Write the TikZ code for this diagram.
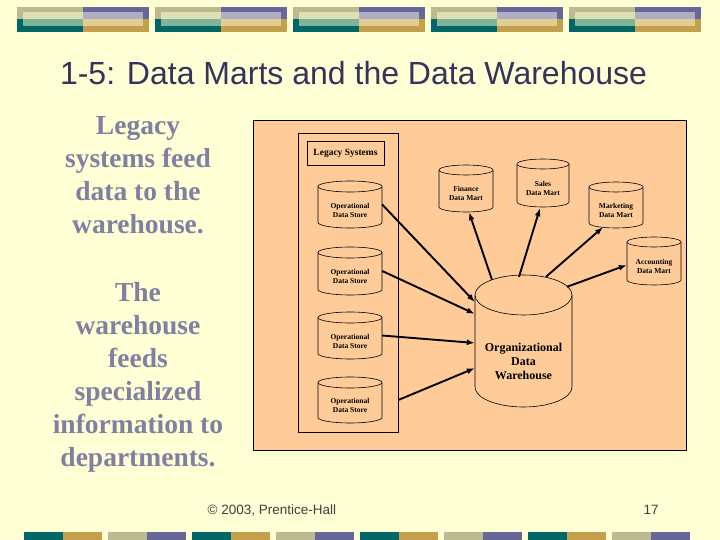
\documentclass[tikz,border=0pt]{standalone}
\usepackage{fontspec}
\setmainfont{Liberation Serif}
\newfontfamily\arialfont{Liberation Sans}
\usetikzlibrary{calc, arrows.meta}

\definecolor{slidebg}{RGB}{255,255,214}
\definecolor{panelpeach}{RGB}{255,204,153}
\definecolor{barolive}{RGB}{187,187,143}
\definecolor{barteal}{RGB}{0,102,102}
\definecolor{barpurple}{RGB}{102,102,153}
\definecolor{bargold}{RGB}{196,160,76}
\definecolor{liteolive}{RGB}{221,223,180}
\definecolor{liteteal}{RGB}{128,180,155}
\definecolor{litepurple}{RGB}{176,174,194}
\definecolor{litegold}{RGB}{226,206,146}
\definecolor{titleblue}{RGB}{51,51,92}
\definecolor{sidegray}{RGB}{128,128,162}

% database drum: name, left, top, right, bottom, rim, text, font
\newcommand{\dbcyl}[8]{%
  \pgfmathsetmacro{\cylrx}{(#4-#2)/2}%
  \pgfmathsetmacro{\cylw}{#4-#2}%
  \pgfmathsetmacro{\cylh}{#5-#3}%
  \filldraw[drum] (#2,#3+#6) -- (#2,#5-#6)
    arc[start angle=180, end angle=360, x radius=\cylrx*1pt, y radius=#6*1pt]
    -- (#4,#3+#6)
    arc[start angle=0, end angle=180, x radius=\cylrx*1pt, y radius=#6*1pt] -- cycle;
  \draw[drum] (#2,#3+#6) arc[start angle=180, end angle=360, x radius=\cylrx*1pt, y radius=#6*1pt];
  \node[drumspot, minimum width=\cylw pt, minimum height=\cylh pt] (#1) at ({(#2+#4)/2},{(#3+#5)/2}) {};
  \node[drumtext, font=#8] (#1txt) at ([yshift=-#6pt]#1.center) {#7};
}

\begin{document}
\begin{tikzpicture}[x=1pt, y=-1pt, >=Latex,
    drum/.style={fill=panelpeach, draw=black, line width=0.6pt},
    drumspot/.style={inner sep=0pt, draw=none},
    drumtext/.style={align=center, inner sep=0pt},
    feed/.style={-{Latex[length=8pt,width=6pt]}, line width=1.9pt},
    sidetext/.style={align=center, text=sidegray, font=\fontsize{27.5}{33}\selectfont\bfseries}]

    % --- SLIDE BACKGROUND ---
    \useasboundingbox (0,0) rectangle (720,540);
    \fill[slidebg] (0,0) rectangle (720,540);

    % --- TOP BARS ---
    \foreach \i in {0,...,4} {
        \pgfmathsetmacro{\bx}{17+138*\i}
        \fill[barolive] (\bx,7) rectangle (\bx+66,19.5);
        \fill[barteal] (\bx,19.5) rectangle (\bx+66,32);
        \fill[barpurple] (\bx+66,7) rectangle (\bx+132,19.5);
        \fill[bargold] (\bx+66,19.5) rectangle (\bx+132,32);
        \fill[liteolive] (\bx+6,12.5) rectangle (\bx+66,19.5);
        \fill[liteteal] (\bx+6,19.5) rectangle (\bx+66,26);
        \fill[litepurple] (\bx+66,12.5) rectangle (\bx+126,19.5);
        \fill[litegold] (\bx+66,19.5) rectangle (\bx+126,26);
    }

    % --- BOTTOM BARS ---
    \foreach \i in {0,...,7} {
        \pgfmathsetmacro{\bx}{24+84*\i}
        \ifodd\i
            \fill[barolive] (\bx,532) rectangle (\bx+39,540);
            \fill[barpurple] (\bx+39,532) rectangle (\bx+78,540);
        \else
            \fill[barteal] (\bx,532) rectangle (\bx+39,540);
            \fill[bargold] (\bx+39,532) rectangle (\bx+78,540);
        \fi
    }

    % --- TITLE AND SIDE TEXT ---
    \node[text=titleblue, font=\arialfont\fontsize{32}{38}\selectfont] (title) at (353.5,73) {1-5: Data Marts and the Data Warehouse};
    \node[sidetext] (feedin) at (138,175) {Legacy\\systems feed\\data to the\\warehouse.};
    \node[sidetext] (feedout) at (138,377) {The\\warehouse\\feeds\\specialized\\information to\\departments.};

    % --- FOOTER ---
    \node[text=black!75, font=\arialfont\fontsize{13.5}{16}\selectfont] (copy) at (272,510) {\textcopyright\ 2003, Prentice-Hall};
    \node[text=black!75, font=\arialfont\fontsize{13.5}{16}\selectfont] (pageno) at (651,510) {17};

    % --- DIAGRAM PANEL ---
    \filldraw[fill=panelpeach, draw=black, line width=0.8pt] (253,120) rectangle (686,450);
    \node[draw, line width=0.6pt, minimum width=100pt, minimum height=299pt, inner sep=0pt] (legacy) at (348,282.5) {};
    \node[draw, line width=0.6pt, minimum width=77pt, minimum height=24pt, inner sep=0pt,
          font=\fontsize{9.5}{11}\selectfont\bfseries] (legtitle) at (345.5,153) {Legacy Systems};

    % operational stores
    \dbcyl{os1}{318}{181}{382}{228}{5.5}{Operational\\Data Store}{\fontsize{7.5}{9}\selectfont\bfseries}
    \dbcyl{os2}{318}{247}{382}{295}{5.5}{Operational\\Data Store}{\fontsize{7.5}{9}\selectfont\bfseries}
    \dbcyl{os3}{318}{312}{382}{359}{5.5}{Operational\\Data Store}{\fontsize{7.5}{9}\selectfont\bfseries}
    \dbcyl{os4}{318}{377}{382}{423}{5.5}{Operational\\Data Store}{\fontsize{7.5}{9}\selectfont\bfseries}

    % data marts
    \dbcyl{fin}{439}{165}{493}{212}{5}{Finance\\Data Mart}{\fontsize{7.5}{9}\selectfont\bfseries}
    \dbcyl{sales}{517}{159}{569}{207}{5}{Sales\\Data Mart}{\fontsize{7.5}{9}\selectfont\bfseries}
    \dbcyl{mkt}{589}{182}{643}{228}{5}{Marketing\\Data Mart}{\fontsize{7.5}{9}\selectfont\bfseries}
    \dbcyl{acc}{627}{237}{681}{285}{5}{Accounting\\Data Mart}{\fontsize{7.5}{9}\selectfont\bfseries}

    % warehouse
    \dbcyl{wh}{475}{275}{572}{407}{20}{Organizational\\Data\\Warehouse}{\fontsize{12}{14}\selectfont\bfseries}

    % --- ARROWS ---
    \draw[feed] (os1.east) -- ($(wh.north west)!0.205!(wh.south west)$);
    \draw[feed] (os2.east) -- ($(wh.north west)!0.295!(wh.south west)$);
    \draw[feed] (os3.east) -- ($(wh.north west)!0.515!(wh.south west)$);
    \draw[feed] (os4.east -| legacy.east) -- ($(wh.north west)!0.705!(wh.south west)$);

    \draw[feed] ($(wh.north)+(-31.5,5)$) -- ($(fin.south)+(3,0)$);
    \draw[feed] ($(wh.north)+(-4.5,2)$) -- ($(sales.south)+(-3,1)$);
    \draw[feed] ($(wh.north)+(22.5,2)$) -- ($(mkt.south)+(-13,-1)$);
    \draw[feed] ($(wh.north)+(43.5,12)$) -- ($(acc.west)+(0,4)$);

\end{tikzpicture}
\end{document}
